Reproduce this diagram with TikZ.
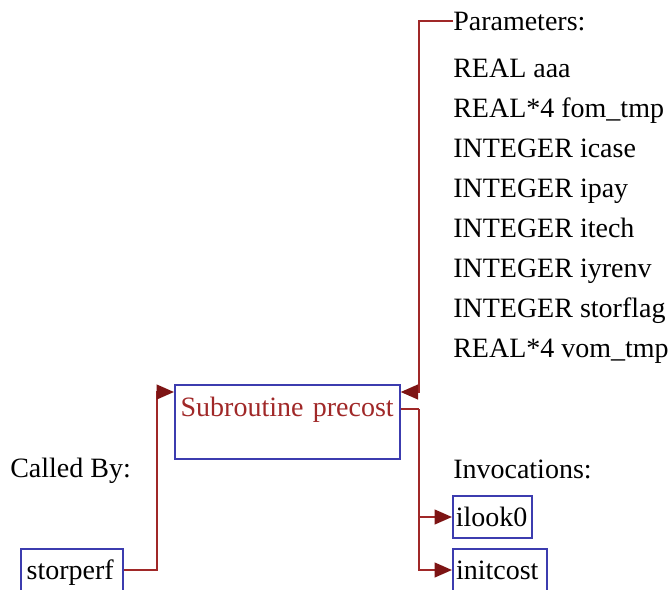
\documentclass[tikz,border=0pt]{standalone}
\usepackage{fontspec}
\setmainfont{Liberation Serif}
\usetikzlibrary{arrows.meta,positioning}
\definecolor{boxblue}{RGB}{60,60,175}
\definecolor{linkred}{RGB}{160,40,40}
\definecolor{tipred}{RGB}{125,20,20}
\tikzset{
  txt/.style={anchor=base west,inner sep=0pt,font=\fontsize{21pt}{25pt}\selectfont},
  callbox/.style={draw=boxblue,line width=1.5pt,anchor=north west,inner ysep=0pt,align=left,
    text height=22.5pt,text depth=9pt,font=\fontsize{21pt}{25pt}\selectfont},
  link/.style={draw=linkred,line width=1.5pt},
  tip/.style={-{Triangle[length=13pt,width=11pt,color=tipred]}}
}

\begin{document}
\begin{tikzpicture}[x=0.75pt,y=-0.75pt]
        \useasboundingbox (0,0) rectangle (670,589);
        % subroutine and its callers / callees
        \node[callbox,text width=160pt,inner xsep=4.25pt,text height=23.25pt,text depth=32.25pt,text=linkred] (precost) at (174,384) {Subroutine precost};
        \node[txt] (calledby) at (10,477) {Called By:};
        \node[callbox,text width=68pt,inner xsep=4.25pt] (storperf) at (20,548) {storperf};
        \node[txt] (invoc) at (453,478) {Invocations:};
        \node[callbox,text width=55pt,inner xsep=2.1pt] (ilook0) at (452,495) {ilook0};
        \node[callbox,text width=66pt,inner xsep=2.25pt] (initcost) at (452,548) {initcost};
        % parameter list
        \node[txt] (params) at (453,30) {Parameters:};
        \foreach \pname [count=\i from 0] in {REAL aaa,REAL*4 fom\_tmp,INTEGER icase,INTEGER ipay,
            INTEGER itech,INTEGER iyrenv,INTEGER storflag,REAL*4 vom\_tmp}
          \node[txt] (par\i) at (453,{77+40*\i}) {\pname};
        % connectors
        \coordinate (pjoint) at (419,392);
        \coordinate (cjoint) at (157,392);
        \coordinate (ojoint) at (419,409);
        \draw[link,tip] (params.west) -| (pjoint) -- (pjoint -| precost.east);
        \draw[link,tip] (storperf.east) -| (cjoint) -- (cjoint -| precost.west);
        \draw[link] (ojoint -| precost.east) -- (ojoint);
        \draw[link,tip] (ojoint) |- (ilook0.west);
        \draw[link,tip] (ojoint) |- (initcost.west);
      \end{tikzpicture}
\end{document}
